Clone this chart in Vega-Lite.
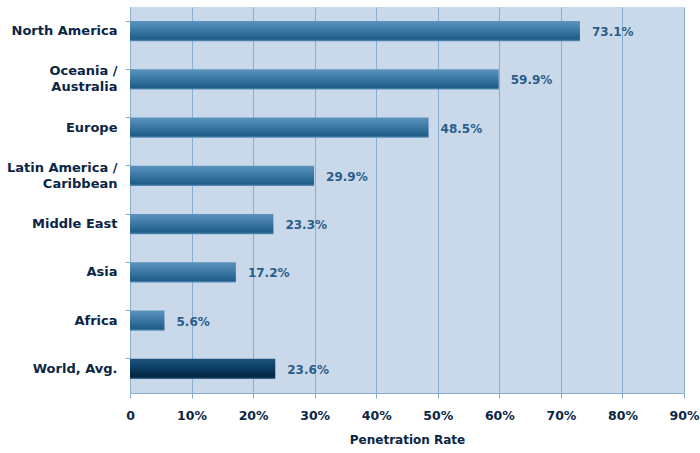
{
  "$schema": "https://vega.github.io/schema/vega-lite/v6.json",
  "width": 554,
  "height": 386,
  "autosize": {"type": "none"},
  "padding": {"left": 130, "top": 7, "right": 16, "bottom": 60},
  "background": "#ffffff",
  "data": {
    "values": [
      {"region": "North America", "label": "North America", "rate": 0.731, "group": "region"},
      {"region": "Oceania / Australia", "label": "Oceania  /| Australia", "rate": 0.599, "group": "region"},
      {"region": "Europe", "label": "Europe", "rate": 0.485, "group": "region"},
      {"region": "Latin America / Caribbean", "label": "Latin America /| Caribbean", "rate": 0.299, "group": "region"},
      {"region": "Middle East", "label": "Middle East", "rate": 0.233, "group": "region"},
      {"region": "Asia", "label": "Asia", "rate": 0.172, "group": "region"},
      {"region": "Africa", "label": "Africa", "rate": 0.056, "group": "region"},
      {"region": "World, Avg.", "label": "World, Avg.", "rate": 0.236, "group": "world"}
    ]
  },
  "encoding": {
    "y": {
      "field": "label",
      "type": "nominal",
      "sort": null,
      "scale": {"paddingInner": 0.585, "paddingOuter": 0.2925},
      "axis": {
        "title": null,
        "labelExpr": "split(datum.label, '|')",
        "labelOffset": {"condition": {"test": "indexof(datum.value, '|') >= 0", "value": -8}, "value": 0},
        "labelFont": "DejaVu Sans",
        "labelFontWeight": "bold",
        "labelFontSize": 13,
        "labelColor": "#0b2545",
        "labelLineHeight": 16,
        "labelPadding": 8,
        "tickSize": 5,
        "tickColor": "#8aaed0",
        "bandPosition": 0,
        "domainColor": "#8aaed0",
        "grid": false
      }
    },
    "x": {
      "field": "rate",
      "type": "quantitative",
      "scale": {"domain": [0, 0.9], "nice": false},
      "axis": {
        "values": [0, 0.1, 0.2, 0.3, 0.4, 0.5, 0.6, 0.7, 0.8, 0.9],
        "labelExpr": "datum.value == 0 ? '0' : format(datum.value, '.0%')",
        "title": "Penetration Rate",
        "titleFont": "DejaVu Sans",
        "titleFontWeight": "bold",
        "titleFontSize": 12,
        "titleColor": "#0b2545",
        "titlePadding": 13,
        "labelFont": "DejaVu Sans",
        "labelFontWeight": "bold",
        "labelFontSize": 12.5,
        "labelColor": "#0b2545",
        "labelPadding": 11,
        "labelFlush": false,
        "tickSize": 5,
        "tickColor": "#8aaed0",
        "domainColor": "#8aaed0",
        "grid": true,
        "gridColor": "#8aaed0",
        "gridOpacity": 1,
        "gridWidth": 1
      }
    }
  },
  "layer": [
    {
      "transform": [{"filter": "datum.group == 'region'"}],
      "mark": {
        "type": "bar",
        "color": {
          "gradient": "linear",
          "x1": 0, "y1": 0, "x2": 0, "y2": 1,
          "stops": [
            {"offset": 0, "color": "#5b93bd"},
            {"offset": 0.45, "color": "#3d79a6"},
            {"offset": 0.9, "color": "#1f5d89"},
            {"offset": 1, "color": "#5a8fb8"}
          ]
        }
      }
    },
    {
      "transform": [{"filter": "datum.group == 'world'"}],
      "mark": {
        "type": "bar",
        "color": {
          "gradient": "linear",
          "x1": 0, "y1": 0, "x2": 0, "y2": 1,
          "stops": [
            {"offset": 0, "color": "#1d5580"},
            {"offset": 0.45, "color": "#0b3e63"},
            {"offset": 0.9, "color": "#01253f"},
            {"offset": 1, "color": "#3c6c93"}
          ]
        }
      }
    },
    {
      "mark": {
        "type": "text",
        "align": "left",
        "baseline": "middle",
        "dx": 12,
        "dy": 1,
        "font": "DejaVu Sans",
        "fontWeight": "bold",
        "fontSize": 12,
        "color": "#2a5d8a"
      },
      "encoding": {
        "text": {"field": "rate", "type": "quantitative", "format": ".1%"}
      }
    }
  ],
  "config": {
    "view": {"fill": "#c9d9ea", "stroke": null}
  }
}
